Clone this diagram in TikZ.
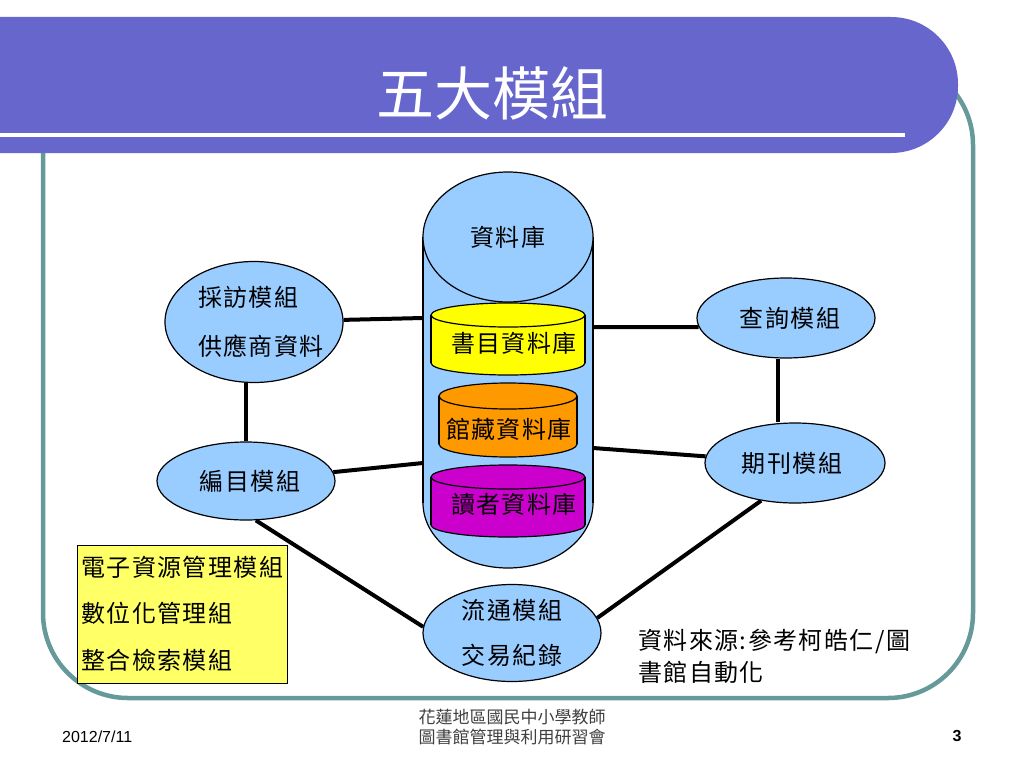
\documentclass[tikz,border=0pt]{standalone}
\usepackage{fontspec}
\setmainfont{Liberation Sans}
\newfontfamily\cjk{Noto Sans CJK TC}
\newfontfamily\cjkls[LetterSpace=6]{Noto Sans CJK TC}
\usetikzlibrary{shapes.geometric}
\definecolor{lblue}{HTML}{99CCFF}
\definecolor{dbyellow}{HTML}{FFFF00}
\definecolor{dborange}{HTML}{FF9900}
\definecolor{dbmagenta}{HTML}{CC00CC}
\definecolor{boxyellow}{HTML}{FFFF66}
\definecolor{titlebar}{HTML}{6666CC}
\definecolor{frameteal}{HTML}{669999}
\definecolor{footgray}{HTML}{404040}
\begin{document}
\begin{tikzpicture}[x=1pt,y=-1pt,
  mod/.style={ellipse, draw=black, line width=1.2pt, fill=lblue, inner sep=0pt,
    font=\cjkls\fontsize{24}{30}\selectfont, align=center},
  conn/.style={line width=4pt, black},
  lbl/.style={font=\cjkls\fontsize{24}{30}\selectfont, inner sep=0pt},
  outl/.style={draw=black, line width=1.2pt},
]
\useasboundingbox (0,0) rectangle (1024,768);
\fill[white] (0,0) rectangle (1024,768);

% frame
\draw[frameteal, line width=4.5pt, rounded corners=85pt] (43,60) rectangle (973,698);
% title bar
\fill[titlebar] (0,17) [rounded corners=67pt] -- (958,17) -- (958,153) [sharp corners] -- (0,153) -- cycle;
\draw[white, line width=4pt] (0,135) -- (905,135);
\node[text=white, font=\cjk\fontsize{58}{60}\selectfont, inner sep=0pt] (title) at (492,93) {五大模組};

% big database cylinder
\filldraw[fill=lblue, outl] (508,503) ellipse [x radius=85pt, y radius=65pt];
\fill[lblue] (423,237) rectangle (593,503);
\draw[outl] (423,237) -- (423,503) (593,237) -- (593,503);
\node[mod, minimum width=170pt, minimum height=130pt] (db) at (508,237) {資料庫};
\coordinate (dbL1) at (423,318);
\coordinate (dbR1) at (593,327);
\coordinate (dbL2) at (423,463);
\coordinate (dbR2) at (593,448);

% inner cylinders
\filldraw[fill=dbyellow, outl] (508,363) ellipse [x radius=77pt, y radius=12pt];
\fill[dbyellow] (431,315) rectangle (585,363);
\draw[outl] (431,315) -- (431,363) (585,315) -- (585,363);
\filldraw[fill=dbyellow, outl] (508,315) ellipse [x radius=77pt, y radius=12pt];
\node[lbl] (bib) at (514,343) {書目資料庫};

\filldraw[fill=dborange, outl] (508,444) ellipse [x radius=69pt, y radius=13pt];
\fill[dborange] (439,396) rectangle (577,444);
\draw[outl] (439,396) -- (439,444) (577,396) -- (577,444);
\filldraw[fill=dborange, outl] (508,396) ellipse [x radius=69pt, y radius=13pt];
\node[lbl] (hold) at (509,429) {館藏資料庫};

\filldraw[fill=dbmagenta, outl] (508,525) ellipse [x radius=77pt, y radius=12pt];
\fill[dbmagenta] (431,477) rectangle (585,525);
\draw[outl] (431,477) -- (431,525) (585,477) -- (585,525);
\filldraw[fill=dbmagenta, outl] (508,477) ellipse [x radius=77pt, y radius=12pt];
\node[lbl] (reader) at (514,504) {讀者資料庫};

% module ellipses
\node[mod, minimum width=178pt, minimum height=121pt, align=left, inner xsep=-12pt,
  font=\cjkls\fontsize{24}{49}\selectfont] (cf) at (254,322) {\hspace*{14pt}採訪模組\\\hspace*{14pt}供應商資料};
\node[mod, minimum width=178pt, minimum height=78pt] (bm) at (246,481) {\hspace*{8pt}編目模組};
\node[mod, minimum width=178pt, minimum height=80pt] (cx) at (786,318) {\hspace*{8pt}查詢模組};
\node[mod, minimum width=180pt, minimum height=80pt] (qk) at (795,463) {期刊模組\hspace*{6pt}};
\node[mod, minimum width=178pt, minimum height=97pt,
  font=\cjkls\fontsize{24}{45}\selectfont] (lt) at (512,633) {流通模組\\交易紀錄};

% connectors
\draw[conn] (cf) -- (dbL1);
\draw[conn] (dbR1) -- (cx.186);
\draw[conn] (cf.south -| bm.north) -- (bm.north);
\draw[conn] (bm) -- (dbL2);
\draw[conn] (dbR2) -- (qk);
\draw[conn] ([xshift=-8pt]cx.south) -- ([xshift=-17pt]qk.north);
\draw[conn] (bm.-76) -- (lt.176);
\draw[conn] (lt.10) -- (qk.-132);

% yellow box
\node[draw=black, line width=1pt, fill=boxyellow, minimum width=210pt, minimum height=138pt, inner sep=0pt] (box) at (182,614) {};
\node[lbl, anchor=west] (e1) at (81,567) {電子資源管理模組};
\node[lbl, anchor=west] (e2) at (81,613) {數位化管理組};
\node[lbl, anchor=west] (e3) at (81,660) {整合檢索模組};

% source
\node[lbl, anchor=west, align=left, font=\cjkls\fontsize{24}{32}\selectfont] (src) at (638,656) {資料來源:參考柯皓仁/圖\\書館自動化};

% footer
\node[font=\fontsize{16}{18}\selectfont, anchor=west, inner sep=0pt] (date) at (62,737) {2012/7/11};
\node[font=\cjk\fontsize{17}{20}\selectfont, text=footgray, align=center, inner sep=0pt] (org) at (512,727) {花蓮地區國民中小學教師\\圖書館管理與利用研習會};
\node[font=\bfseries\fontsize{16}{18}\selectfont, inner sep=0pt] (pg) at (957,736) {3};
\end{tikzpicture}
\end{document}
